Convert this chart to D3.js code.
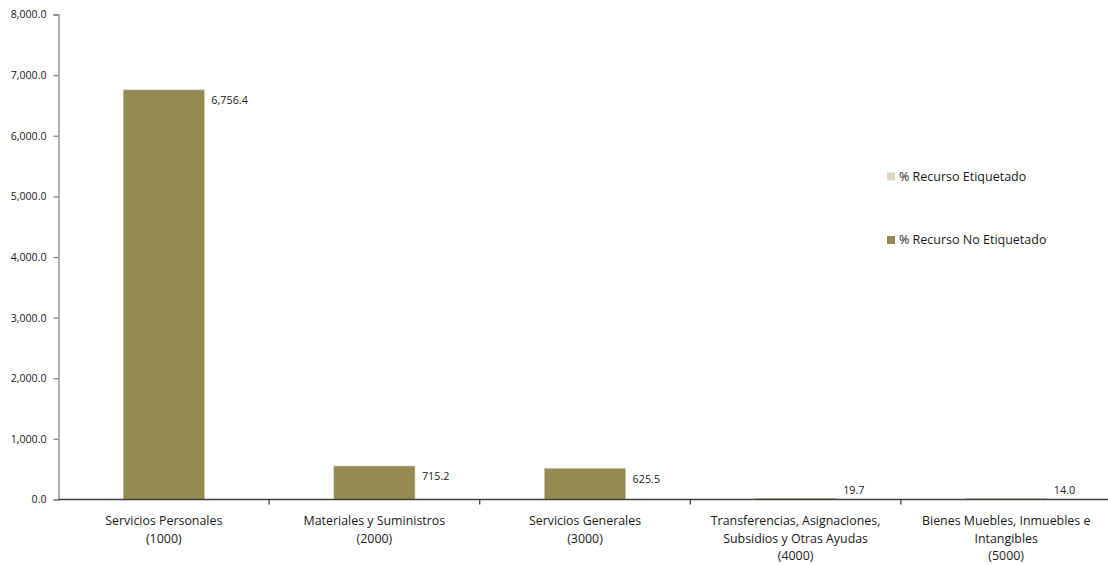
<!DOCTYPE html>
<html>
<head>
<meta charset="utf-8">
<script src="https://cdn.jsdelivr.net/npm/d3@7"></script>
<style>
  html, body { margin: 0; padding: 0; background: #fff; }
  svg { display: block; font-family: "Open Sans", "Noto Sans", sans-serif; }
</style>
</head>
<body>
<svg id="chart" width="1108" height="565"></svg>
<script>
// ---- Data ----
const categories = [
  ["Servicios Personales", "(1000)"],
  ["Materiales y Suministros", "(2000)"],
  ["Servicios Generales", "(3000)"],
  ["Transferencias, Asignaciones,", "Subsidios y Otras Ayudas", "(4000)"],
  ["Bienes Muebles, Inmuebles e", "Intangibles", "(5000)"]
];
// bar heights as drawn (non-labelled resource)
const noEtiquetado = [6756.4, 552.0, 514.0, 19.7, 14.0];
const etiquetado = [0, 0, 0, 0, 0];
// data labels as printed
const dataLabels = ["6,756.4", "715.2", "625.5", "19.7", "14.0"];
const yTicks = [0, 1000, 2000, 3000, 4000, 5000, 6000, 7000, 8000];
const seriesNames = ["% Recurso Etiquetado", "% Recurso No Etiquetado"];
const seriesColors = ["#ddd9c3", "#948a54"];

// ---- Layout ----
const svg = d3.select("#chart");
const x0 = 58.5, x1 = 1111.5, yBottom = 499.5, yTop = 14.5;

const x = d3.scaleBand().domain(d3.range(categories.length)).range([x0, x1]).paddingInner(0).paddingOuter(0);
const y = d3.scaleLinear().domain([0, 8000]).range([yBottom, yTop]);
const barW = x.bandwidth() * 0.385;

// Y axis
const yAxis = svg.append("g").attr("transform", `translate(${x0},0)`)
  .call(d3.axisLeft(y).tickValues(yTicks).tickSize(5).tickPadding(7)
    .tickFormat(d => d3.format(",.1f")(d)));
yAxis.select(".domain").attr("stroke", "#868686").attr("stroke-width", 1.3);
yAxis.selectAll(".tick line").attr("stroke", "#868686").attr("stroke-width", 1.3);
yAxis.selectAll(".tick text").attr("fill", "#1a1a1a").style("font-size", "10.6px")
  .style("font-family", '"Open Sans", "Noto Sans", sans-serif');

// Bars (stacked)
const stackData = categories.map((c, i) => ({ i, no: noEtiquetado[i], et: etiquetado[i] }));
const g = svg.append("g");
g.selectAll("rect.no").data(stackData).join("rect")
  .attr("class", "no")
  .attr("x", d => x(d.i) + (x.bandwidth() - barW) / 2)
  .attr("width", barW)
  .attr("y", d => y(d.no))
  .attr("height", d => y(0) - y(d.no))
  .attr("fill", seriesColors[1])
  .attr("stroke", "#c9c3a3").attr("stroke-width", 0.6);
g.selectAll("rect.et").data(stackData).join("rect")
  .attr("class", "et")
  .attr("x", d => x(d.i) + (x.bandwidth() - barW) / 2)
  .attr("width", barW)
  .attr("y", d => y(d.no + d.et))
  .attr("height", d => y(d.no) - y(d.no + d.et))
  .attr("fill", seriesColors[0]);

// X axis
const xAxis = svg.append("g").attr("transform", `translate(0,${yBottom})`);
xAxis.append("line").attr("x1", x0).attr("x2", 1108).attr("y1", 0).attr("y2", 0)
  .attr("stroke", "#404040").attr("stroke-width", 1.3);
xAxis.selectAll("line.tk").data(d3.range(1, categories.length)).join("line")
  .attr("class", "tk")
  .attr("x1", d => x(d)).attr("x2", d => x(d))
  .attr("y1", 0).attr("y2", 5)
  .attr("stroke", "#404040").attr("stroke-width", 1.3);

// Category labels
const catText = svg.append("g").selectAll("text").data(categories).join("text")
  .attr("text-anchor", "middle")
  .attr("fill", "#1a1a1a")
  .style("font-size", "12.4px");
catText.each(function(lines, i) {
  d3.select(this).selectAll("tspan").data(lines).join("tspan")
    .attr("x", x(i) + x.bandwidth() / 2)
    .attr("y", (d, j) => 525 + j * 17.5)
    .text(d => d);
});

// Data labels
svg.append("g").selectAll("text").data(stackData).join("text")
  .attr("x", d => x(d.i) + (x.bandwidth() + barW) / 2 + 7)
  .attr("y", d => Math.min(y(d.no + d.et) + 10.5, 490))
  .attr("dy", "0.35em")
  .attr("fill", "#1a1a1a")
  .style("font-size", "10.8px")
  .text((d, i) => dataLabels[i]);

// Legend
const legend = svg.append("g");
const legY = [176.5, 240];
seriesNames.forEach((name, i) => {
  legend.append("rect").attr("x", 887).attr("y", legY[i] - 4).attr("width", 8).attr("height", 8)
    .attr("fill", seriesColors[i]);
  legend.append("text").attr("x", 899).attr("y", legY[i]).attr("dy", "0.35em")
    .attr("fill", "#1a1a1a").style("font-size", "12.5px").text(name);
});
</script>
</body>
</html>
